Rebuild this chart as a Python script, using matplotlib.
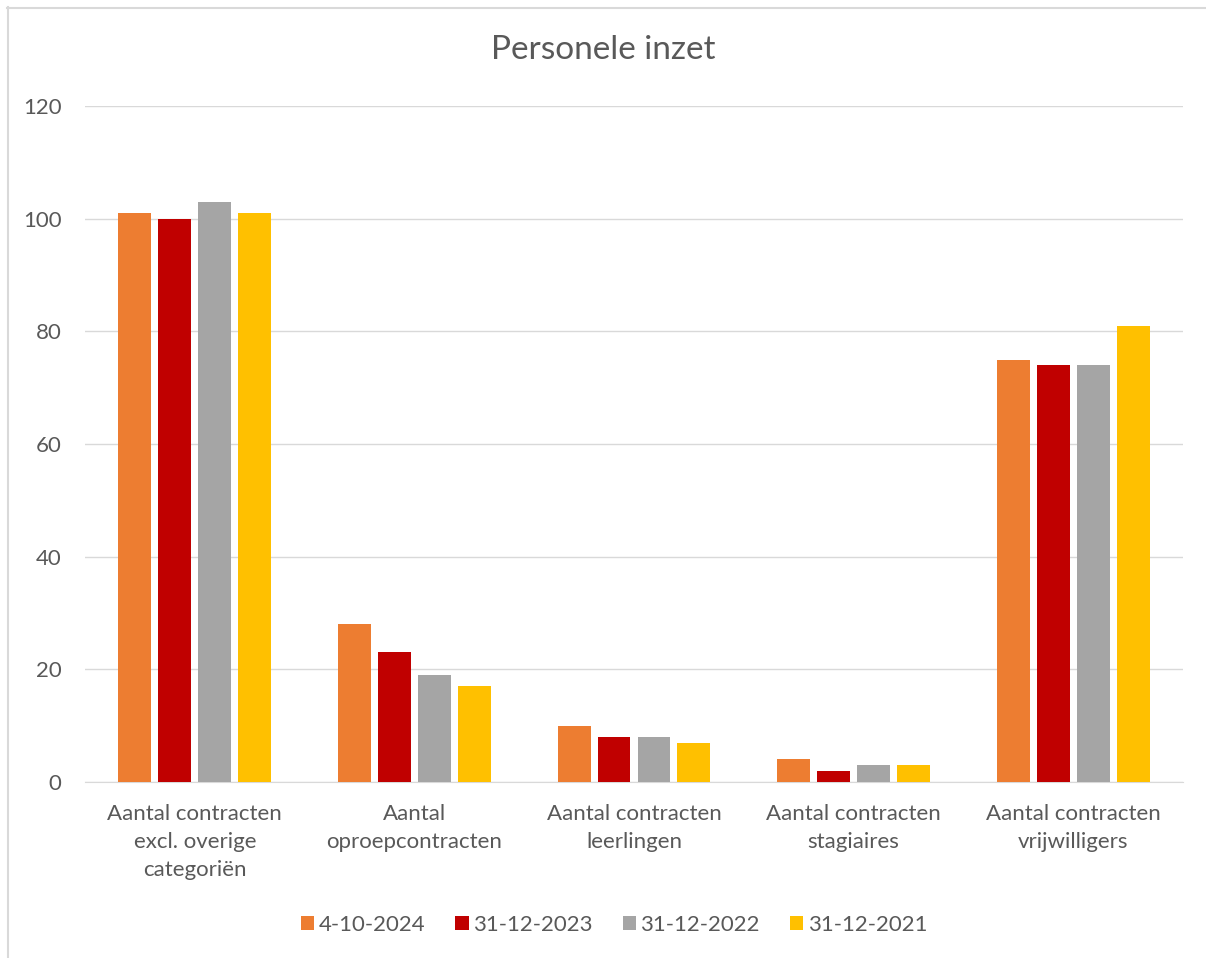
import matplotlib.pyplot as plt
import numpy as np

plt.rcParams['font.family'] = ['Lato', 'DejaVu Sans']

categories = ['Aantal contracten\nexcl. overige\ncategoriën', 'Aantal\noproepcontracten',
              'Aantal contracten\nleerlingen', 'Aantal contracten\nstagiaires',
              'Aantal contracten\nvrijwilligers']
series_names = ['4-10-2024', '31-12-2023', '31-12-2022', '31-12-2021']
v2024 = [101, 28, 10, 4, 75]
v2023 = [100, 23, 8, 2, 74]
v2022 = [103, 19, 8, 3, 74]
v2021 = [101, 17, 7, 3, 81]
colors = ['#ED7D31', '#C00000', '#A5A5A5', '#FFC000']

textcol = '#595959'
fig = plt.figure(figsize=(12.06, 9.58), dpi=100)
ax = fig.add_axes([85 / 1206, 1 - 782 / 958, (1183 - 85) / 1206, (782 - 106) / 958])

x = np.arange(len(categories))
pitch = 0.182
width = 0.15
for i, (vals, name) in enumerate(zip([v2024, v2023, v2022, v2021], series_names)):
    ax.bar(x + (i - 1.5) * pitch, vals, width, color=colors[i], label=name, zorder=3)

ax.set_xlim(-0.5, len(categories) - 0.5)
ax.set_ylim(0, 120)
ax.set_yticks(range(0, 121, 20))
ax.set_xticks(x)
ax.set_xticklabels(categories, fontsize=16, color=textcol, linespacing=1.5)
ax.tick_params(axis='y', labelsize=16, labelcolor=textcol, length=0, pad=17)
ax.tick_params(axis='x', length=0, pad=16)
ax.grid(axis='y', color='#D9D9D9', linewidth=1, zorder=0)
for s in ['top', 'right', 'left']:
    ax.spines[s].set_visible(False)
ax.spines['bottom'].set_color('#D9D9D9')

fig.text(0.5, 1 - 50 / 958, 'Personele inzet', ha='center', va='center', fontsize=24, color=textcol)

leg = fig.legend(loc='center', bbox_to_anchor=(614 / 1206, 1 - 925 / 958), ncol=4, frameon=False,
                 fontsize=16, handlelength=0.6, handleheight=0.6, handletextpad=0.2, columnspacing=1.35)
for t in leg.get_texts():
    t.set_color(textcol)

# chart border (top and left visible)
fig.add_artist(plt.Line2D([7 / 1206, 1], [1 - 7.5 / 958] * 2, color='#D9D9D9', lw=1.5))
fig.add_artist(plt.Line2D([7.5 / 1206] * 2, [0, 1 - 7 / 958], color='#D9D9D9', lw=1.5))

fig.savefig('out.png', dpi=100)
